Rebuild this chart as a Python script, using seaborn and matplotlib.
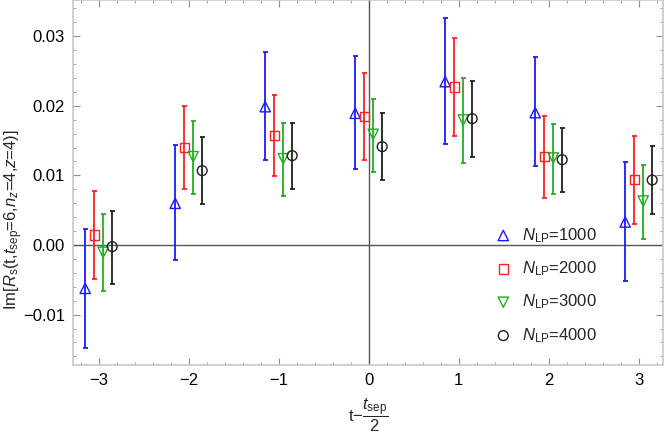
import numpy as np
import pandas as pd
import matplotlib
matplotlib.use("Agg")
import matplotlib.pyplot as plt
from matplotlib.ticker import MultipleLocator
import seaborn as sns

### Dados
t_vals = [-3, -2, -1, 0, 1, 2, 3]
rotulos = [r"$N_{\rm LP}$=1000", r"$N_{\rm LP}$=2000", r"$N_{\rm LP}$=3000", r"$N_{\rm LP}$=4000"]

centro_1000 = [-0.00623, 0.00599, 0.01987, 0.01892, 0.02347, 0.01901, 0.00330]
sup_1000 = [0.00235, 0.01441, 0.02778, 0.02720, 0.03266, 0.02697, 0.01193]
inf_1000 = [-0.01476, -0.00216, 0.01217, 0.01092, 0.01446, 0.01140, -0.00513]

centro_2000 = [0.00144, 0.01398, 0.01576, 0.01849, 0.02270, 0.01269, 0.00938]
sup_2000 = [0.00780, 0.02000, 0.02160, 0.02476, 0.02979, 0.01858, 0.01570]
inf_2000 = [-0.00493, 0.00800, 0.00987, 0.01221, 0.01566, 0.00675, 0.00306]

centro_3000 = [-0.00105, 0.01269, 0.01240, 0.01590, 0.01796, 0.01250, 0.00632]
sup_3000 = [0.00440, 0.01782, 0.01753, 0.02102, 0.02400, 0.01743, 0.01154]
inf_3000 = [-0.00665, 0.00728, 0.00709, 0.01049, 0.01174, 0.00728, 0.00086]

centro_4000 = [-0.00024, 0.01068, 0.01284, 0.01413, 0.01815, 0.01226, 0.00934]
sup_4000 = [0.00484, 0.01552, 0.01753, 0.01892, 0.02361, 0.01686, 0.01422]
inf_4000 = [-0.00556, 0.00589, 0.00805, 0.00930, 0.01264, 0.00766, 0.00445]

series = [
    (centro_1000, sup_1000, inf_1000),
    (centro_2000, sup_2000, inf_2000),
    (centro_3000, sup_3000, inf_3000),
    (centro_4000, sup_4000, inf_4000),
]
deslocamentos = [-0.15, -0.05, 0.05, 0.15]
cores = ["#1a1aff", "#ff2020", "#20b020", "#202020"]
marcadores = ["^", "s", "v", "o"]
tamanhos = [55, 45, 55, 50]

### Estilo
sns.set_theme(style="ticks")
plt.rcParams["font.family"] = ["Liberation Sans", "DejaVu Sans"]
plt.rcParams["mathtext.fontset"] = "custom"
plt.rcParams["mathtext.rm"] = "Liberation Sans"
plt.rcParams["mathtext.it"] = "Liberation Sans:italic"
plt.rcParams["mathtext.bf"] = "Liberation Sans:bold"

fig = plt.figure(figsize=(6.64, 4.34), dpi=100)
ax = fig.add_axes([0.110, 0.159, 0.8885, 0.841])

ax.axhline(0, color="#555555", lw=1.0, zorder=1)
ax.axvline(0, color="#555555", lw=1.0, zorder=1)

for (centro, sup, inf), dx, cor, mk, tam, rot in zip(series, deslocamentos, cores, marcadores, tamanhos, rotulos):
    df = pd.DataFrame({"t": np.array(t_vals) + dx, "valor": centro, "sup": sup, "inf": inf})
    ax.errorbar(df["t"], df["valor"], yerr=[df["valor"] - df["inf"], df["sup"] - df["valor"]],
                fmt="none", ecolor=cor, elinewidth=1.3, capsize=1.8, capthick=1.3, zorder=2)
    sns.scatterplot(data=df, x="t", y="valor", marker=mk, s=tam, facecolor="none",
                    edgecolor=cor, linewidth=1.0, label=rot, ax=ax, zorder=3)

ax.set_xlim(-3.285, 3.27)
ax.set_ylim(-0.01724, 0.0352)
ax.xaxis.set_major_locator(MultipleLocator(1))
ax.xaxis.set_minor_locator(MultipleLocator(0.2))
ax.yaxis.set_major_locator(MultipleLocator(0.01))
ax.yaxis.set_minor_locator(MultipleLocator(0.002))
ax.yaxis.set_major_formatter(matplotlib.ticker.FuncFormatter(lambda v, p: f"{v:.2f}".replace("-", "\u2212")))
ax.xaxis.set_major_formatter(matplotlib.ticker.FuncFormatter(lambda v, p: f"{v:.0f}".replace("-", "\u2212")))

for lado in ["left", "bottom", "top", "right"]:
    ax.spines[lado].set_color("#c8c8c8")
    ax.spines[lado].set_linewidth(1.2)
ax.tick_params(which="both", direction="in", top=True, right=True, color="#909090",
               labelsize=12, labelcolor="black", pad=6)
ax.tick_params(which="major", length=5, width=0.8)
ax.tick_params(which="minor", length=2.5, width=0.6)

ax.set_ylabel(r"Im[$R_{\rm s}$(t,$t_{\rm sep}$=6,$n_z$=4,$z$=4)]", fontsize=12)
ax.yaxis.set_label_coords(-0.082, 0.397)
ax.set_xlabel(r"t$-\dfrac{t_{\rm sep}}{2}$", fontsize=12)
ax.xaxis.set_label_coords(0.5, -0.088)

ax.legend(loc="upper left", bbox_to_anchor=(0.701, 0.404), frameon=False, fontsize=12,
          handlelength=1.0, handletextpad=0.6, labelspacing=0.88, borderpad=0)

fig.savefig("out.png", dpi=100)
